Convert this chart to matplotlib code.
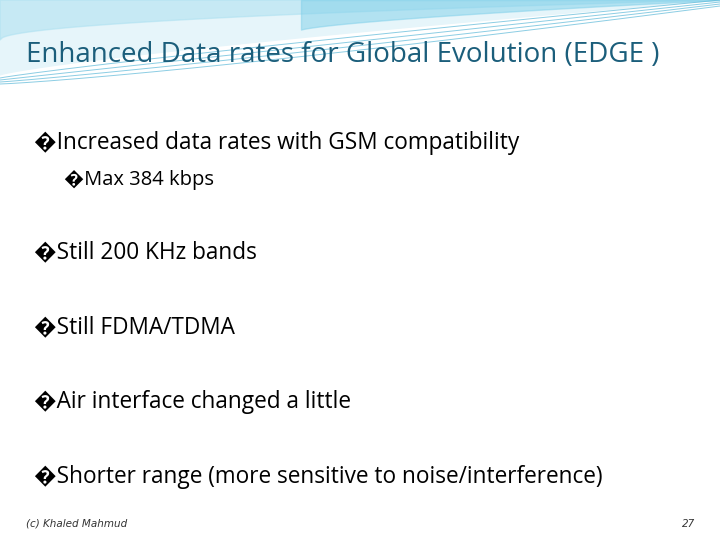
import matplotlib
matplotlib.use("Agg")
import matplotlib.pyplot as plt
import numpy as np

title = "Enhanced Data rates for Global Evolution (EDGE )"
bullets = [
    ("\ufffdIncreased data rates with GSM compatibility", 0, 143),
    ("\ufffdMax 384 kbps", 1, 180),
    ("\ufffdStill 200 KHz bands", 0, 252),
    ("\ufffdStill FDMA/TDMA", 0, 327),
    ("\ufffdAir interface changed a little", 0, 402),
    ("\ufffdShorter range (more sensitive to noise/interference)", 0, 477),
]
footer_left = "(c) Khaled Mahmud"
footer_right = "27"

fig = plt.figure(figsize=(7.2, 5.4), dpi=100)
ax = fig.add_axes([0, 0, 1, 1])
ax.set_xlim(0, 720)
ax.set_ylim(540, 0)
ax.axis("off")

# decorative swooshes
x = np.linspace(0, 720, 300)
ax.fill_between(x, 0, 75 - 75 * (x / 720) ** 0.8, color="#e6f5fa")
ax.fill_between(x, 0, 40 - 40 * (x / 720) ** 0.5, color="#a8dff0", alpha=0.5)
xs = x[x > 300]
ax.fill_between(xs, 0, 30 - 30 * ((xs - 300) / 420) ** 0.7, color="#7fd0ea", alpha=0.5)
for k in range(4):
    ax.plot(x, 78 - 78 * (x / 720) ** (0.9 + 0.1 * k) + k * 2, color="#5bb8d8", lw=0.7, alpha=0.7)

ax.text(26, 55, title, fontsize=20, color="#1b5e7b", va="center", family="Open Sans")
for txt, lvl, y in bullets:
    ax.text(34 if lvl == 0 else 64, y, txt, fontsize=16.3 if lvl == 0 else 14.5,
            color="black", va="center", family=["Open Sans", "DejaVu Sans"])
ax.text(26, 524, footer_left, fontsize=7.5, style="italic", color="#333333", va="center")
ax.text(695, 524, footer_right, fontsize=7.5, style="italic", color="#333333", va="center", ha="right")

fig.savefig("out.png", dpi=100)
